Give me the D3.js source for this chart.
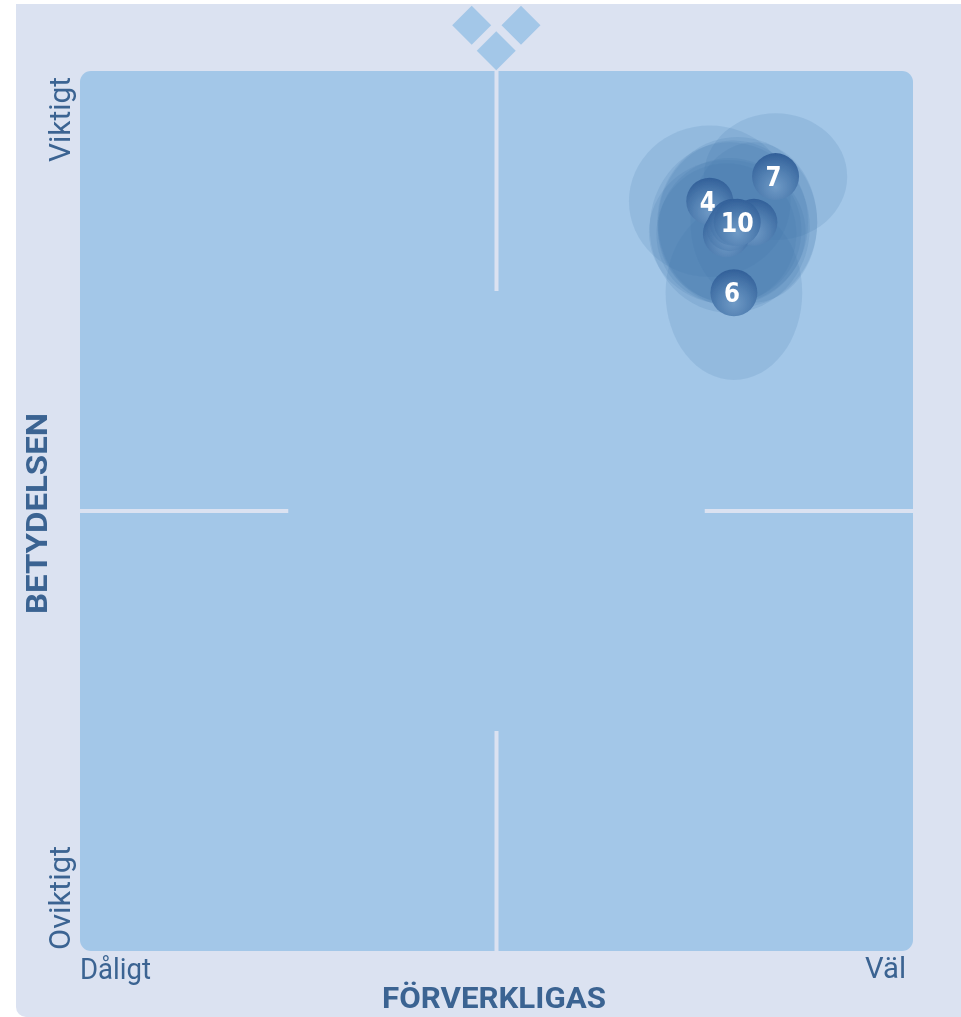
<!DOCTYPE html>
<html>
<head>
<meta charset="utf-8">
<script src="https://cdn.jsdelivr.net/npm/d3@7"></script>
<style>
body { margin: 0; background: #fff; }
svg { display: block; font-family: Roboto, sans-serif; }
</style>
</head>
<body>
<svg></svg>
<script>
var width = 961;
var height = 1017;
var plot = {'left': 80, 'right': 913, 'top': 71, 'bottom': 951};

// values on a 0-100 scale
const labels  = ['1', '2', '3', '4', '5', '6', '7', '8', '9', '10'];
const realised = [77.7, 78.0, 80.9, 75.6, 77.6, 78.5, 83.5, 78.0, 78.4, 78.9];
const importance = [81.7, 81.9, 82.8, 85.2, 81.5, 74.8, 88.0, 82.2, 82.8, 82.8];
const spreadX = [9.4, 8.6, 7.6, 9.7, 8.4, 8.2, 8.6, 9.6, 9.0, 9.6];
const spreadY = [8.2, 8.2, 9.1, 8.6, 8.0, 9.9, 7.2, 9.7, 9.3, 9.7];

// only these numbers show, the rest sit under other balls
const shownLabels = ['4', '6', '7', '10'];

const crossV = [[100, 75], [25, 0]];
const crossH = [[0, 25], [75, 100]];
const diamonds = [[47.02, 105.2], [52.94, 105.2], [49.97, 102.3]];

const panelColor = '#dbe2f1';
const plotColor = '#a3c7e8';
const inkColor = '#3b6492';

var x = d3.scaleLinear().domain([0, 100]).range([plot.left, plot.right]);
var y = d3.scaleLinear().domain([0, 100]).range([plot.bottom, plot.top]);

const svg = d3.select('svg').attr('width', width).attr('height', height);

const defs = svg.append('defs');
const ball = defs.append('radialGradient')
    .attr('id', 'ball')
    .attr('cx', '50%').attr('cy', '72%').attr('r', '70%');
ball.append('stop').attr('offset', '0%').attr('stop-color', '#6f9ac6');
ball.append('stop').attr('offset', '50%').attr('stop-color', '#5280b2');
ball.append('stop').attr('offset', '100%').attr('stop-color', '#33619a');

defs.append('filter').attr('id', 'soft')
    .append('feGaussianBlur').attr('stdDeviation', 0.6);

// panel: only the bottom left corner is rounded
svg.append('path')
    .attr('fill', panelColor)
    .attr('d', 'M16,4H961V1017H26A10,10 0 0 1 16,1007Z');

svg.append('rect')
    .attr('x', x(0)).attr('y', y(100))
    .attr('width', x(100) - x(0)).attr('height', y(0) - y(100))
    .attr('rx', 11)
    .attr('fill', plotColor);

svg.append('g').selectAll('path')
    .data(diamonds)
    .join('path')
    .attr('fill', plotColor)
    .attr('transform', d => `translate(${x(d[0])},${y(d[1])}) rotate(45)`)
    .attr('d', d3.symbol(d3.symbolSquare, 760));

svg.append('g').selectAll('line')
    .data(crossV)
    .join('line')
    .attr('x1', x(50)).attr('x2', x(50))
    .attr('y1', d => y(d[0])).attr('y2', d => y(d[1]))
    .attr('stroke', panelColor).attr('stroke-width', 4);

svg.append('g').selectAll('line')
    .data(crossH)
    .join('line')
    .attr('y1', y(50)).attr('y2', y(50))
    .attr('x1', d => x(d[0])).attr('x2', d => x(d[1]))
    .attr('stroke', panelColor).attr('stroke-width', 4);

// spread blobs
svg.append('g').selectAll('ellipse')
    .data(labels)
    .join('ellipse')
    .attr('cx', (d, i) => x(realised[i]))
    .attr('cy', (d, i) => y(importance[i]))
    .attr('rx', (d, i) => x(spreadX[i]) - x(0))
    .attr('ry', (d, i) => y(0) - y(spreadY[i]))
    .attr('fill', '#3f74a8')
    .attr('fill-opacity', 0.15);

const point = svg.append('g')
    .attr('filter', 'url(#soft)')
    .selectAll('g')
    .data(labels)
    .join('g')
    .attr('transform', (d, i) => `translate(${x(realised[i])},${y(importance[i])})`);

point.append('circle')
    .attr('r', 23.5)
    .attr('fill', 'url(#ball)');

point.filter(d => shownLabels.includes(d)).append('text')
    .attr('text-anchor', 'middle')
    .attr('x', d => d === '10' ? 0 : -2)
    .attr('dy', '0.36em')
    .attr('fill', '#fff')
    .attr('font-family', '"DejaVu Sans", sans-serif')
    .attr('font-weight', 700)
    .attr('font-size', 26)
    .attr('textLength', d => d === '10' ? 33 : 16)
    .attr('lengthAdjust', 'spacingAndGlyphs')
    .text(d => d);

const text = svg.append('g').attr('fill', inkColor).attr('filter', 'url(#soft)');

// the original lettering is condensed, so each text is squeezed to its measured length
function squeezed(sel, len, bold) {
    return sel.attr('font-size', 30)
        .attr('font-weight', bold ? 700 : 400)
        .attr('textLength', len)
        .attr('lengthAdjust', 'spacingAndGlyphs');
}

text.append('text')
    .attr('x', x(0)).attr('y', 979)
    .call(squeezed, 71)
    .text('Dåligt');

text.append('text')
    .attr('x', 865).attr('y', 978)
    .call(squeezed, 41)
    .text('Väl');

text.append('text')
    .attr('x', 382).attr('y', 1008)
    .call(squeezed, 224, true)
    .text('FÖRVERKLIGAS');

text.append('text')
    .attr('transform', `translate(70,950) rotate(-90)`)
    .call(squeezed, 104)
    .text('Oviktigt');

text.append('text')
    .attr('transform', `translate(70,162) rotate(-90)`)
    .call(squeezed, 85)
    .text('Viktigt');

text.append('text')
    .attr('transform', `translate(47,614) rotate(-90)`)
    .call(squeezed, 201, true)
    .text('BETYDELSEN');
</script>
</body>
</html>
